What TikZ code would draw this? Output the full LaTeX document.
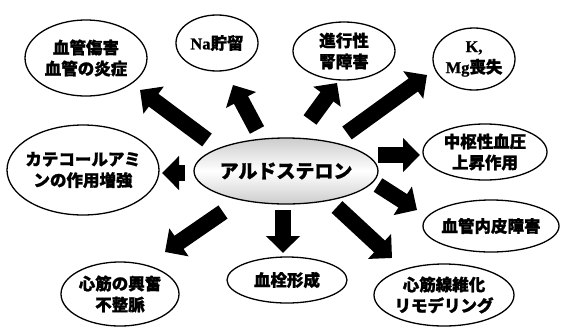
\documentclass[tikz,border=0pt]{standalone}
\usepackage{fontspec}
\setmainfont{Liberation Serif}
\newfontfamily\cjk{Noto Sans CJK JP}[BoldFeatures={FakeBold=1.2}]
\newfontfamily\lat{Liberation Serif}[BoldFeatures={FakeBold=0.8}]
\usetikzlibrary{shapes.geometric,arrows.meta}
\tikzset{
  ell/.style={ellipse, draw=black, line width=1.3pt, inner sep=0pt, fill=white},
  lbl/.style={font=\cjk\bfseries\fontsize{16.5}{21}\selectfont, align=center, inner sep=0pt},
  biglbl/.style={font=\cjk\bfseries\fontsize{19}{23}\selectfont, align=center, inner sep=0pt},
  fat/.style={line width=16pt, -{Triangle[width=33pt,length=17pt]}},
}
\begin{document}
\begin{tikzpicture}[x=1pt,y=-1pt]
\useasboundingbox (0,0) rectangle (561,327);
% nodes
\node[ell, minimum width=122pt, minimum height=76pt, label={[lbl]center:血管傷害\\血管の炎症}] (A) at (86,58) {};
\node[ell, minimum width=82pt, minimum height=56pt, label={[lbl]center:{\lat\bfseries Na}貯留}] (B) at (217,43) {};
\node[ell, minimum width=102pt, minimum height=58pt, label={[lbl]center:進行性\\腎障害}] (C) at (344,51) {};
\node[ell, minimum width=82pt, minimum height=62pt, label={[lbl]center:{\lat\bfseries K,}\\{\lat\bfseries Mg}喪失}] (D) at (474,59) {};
\node[ell, minimum width=124pt, minimum height=56pt, label={[lbl]center:中枢性血圧\\上昇作用}] (E) at (485,152) {};
\node[ell, minimum width=136pt, minimum height=52pt, label={[lbl]center:血管内皮障害}] (F) at (491,226) {};
\node[ell, minimum width=140pt, minimum height=62pt, label={[lbl]center:心筋線維化\\リモデリング}] (G) at (444,295) {};
\node[ell, minimum width=120pt, minimum height=46pt, label={[lbl]center:血栓形成}] (H) at (287,280) {};
\node[ell, minimum width=118pt, minimum height=64pt, label={[lbl]center:心筋の興奮\\不整脈}] (I) at (120,294) {};
\node[ell, minimum width=152pt, minimum height=90pt, label={[lbl]center:カテコールアミ\\ンの作用増強}] (J) at (83,170) {};
\node[ell, minimum width=184pt, minimum height=66pt, top color=gray!40, bottom color=gray!40, middle color=white, label={[biglbl]center:アルドステロン}] (O) at (286,171) {};
% arrows
\draw[fat] ([shift={(-79,-31)}]O.center) -- ([shift={(54,32)}]A.center);
\draw[fat] ([shift={(-29,-41)}]O.center) -- ([shift={(16,42)}]B.center);
\draw[fat] ([shift={(24,-51)}]O.center) -- ([shift={(-7,32)}]C.center);
\draw[fat] ([shift={(61,-38)}]O.center) -- ([shift={(-47,16)}]D.center);
\draw[fat] ([shift={(92,-16)}]O.center) -- ([shift={(-65,3)}]E.center);
\draw[fat] ([shift={(92,14)}]O.center) -- ([shift={(-74,-16)}]F.center);
\draw[fat] ([shift={(51,36)}]O.center) -- ([shift={(-52,-37)}]G.center);
\draw[fat] ([shift={(-3,39)}]O.center) -- ([shift={(-4,-27)}]H.center);
\draw[fat] ([shift={(-63,41)}]O.center) -- ([shift={(45,-42)}]I.center);
\draw[fat] ([shift={(-101,2)}]O.center) -- ([shift={(79,3)}]J.center);
\end{tikzpicture}
\end{document}
